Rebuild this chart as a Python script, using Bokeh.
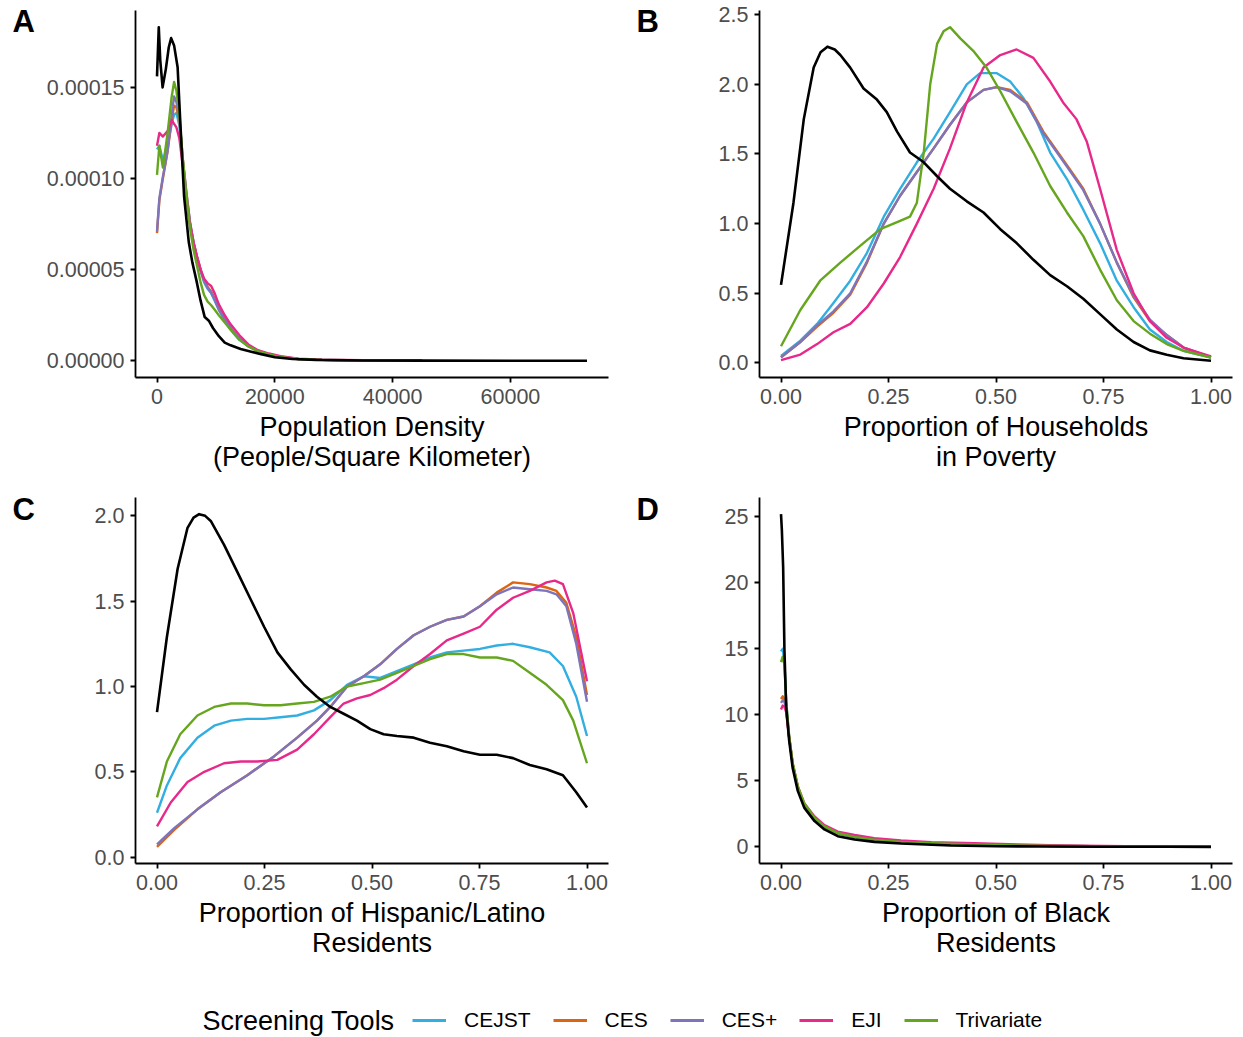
from bokeh.plotting import figure
from bokeh.models import Range1d, FixedTicker, PrintfTickFormatter, Label, Legend, LegendItem
from bokeh.core.properties import value
from bokeh.layouts import column, row
from bokeh.embed import file_html
from bokeh.resources import INLINE

FONT = "Liberation Sans"
SERIES = ["CEJST", "CES", "CES+", "EJI", "Trivariate"]
COLORS = {"CEJST": "#33AEE0", "CES": "#DD6410", "CES+": "#7D74BC", "EJI": "#E7298A", "Trivariate": "#66A61E"}
PANEL_LETTERS = ["A", "B", "C", "D"]

# ---------------- Panel A: population density ----------------
A_black_x = [0, 300, 550, 950, 1500, 2000, 2400, 2900, 3500, 4000, 4600, 5400, 6000, 6700, 7400, 8100,
             8800, 9500, 10500, 11500, 12500, 14200, 16000, 17500, 20000, 23000, 27000, 35000, 45000, 60000, 73000]
A_black_y = [0.000156, 0.000183, 0.000165, 0.000150, 0.000160, 0.000172, 0.000177, 0.000173, 0.000161,
             0.000128, 0.000090, 0.000065, 0.000054, 0.000044, 0.000033, 0.000024, 0.000022, 0.000018,
             0.0000135, 0.000010, 0.0000085, 0.0000065, 0.000005, 0.0000038, 0.000002, 0.000001,
             0.0000005, 0.0000002, 0.0000001, 0.00000005, 0.0]
A_x = [0, 400, 1000, 1800, 2500, 2900, 3300, 3800, 4400, 5000, 5600, 6200, 6800, 7400, 8000, 8600, 9200,
       9800, 10500, 11500, 12500, 14000, 15500, 17000, 19000, 21000, 24000, 28000, 35000, 45000]
A_cejst = [0.000116, 0.000118, 0.000110, 0.000118, 0.000130, 0.000135, 0.000136, 0.000129, 0.000108,
           0.000090, 0.000075, 0.000064, 0.000056, 0.000049, 0.000043, 0.0000395, 0.000037, 0.000033,
           0.000028, 0.000022, 0.000017, 0.0000115, 0.000008, 0.0000055, 0.0000035, 0.0000022,
           0.000001, 0.0000005, 0.0000002, 0.0]
A_ces = [0.000070, 0.000088, 0.000100, 0.000115, 0.000132, 0.000140, 0.000139, 0.000132, 0.000110,
         0.000092, 0.000076, 0.000065, 0.000057, 0.000050, 0.000044, 0.0000405, 0.000038, 0.000034,
         0.000029, 0.000023, 0.000018, 0.000012, 0.000008, 0.0000055, 0.0000035, 0.000002,
         0.000001, 0.0000005, 0.0000002, 0.0]
A_cesp = [0.000071, 0.000089, 0.000101, 0.000115, 0.000135, 0.000145, 0.000142, 0.000133, 0.000110,
          0.000092, 0.000076, 0.000065, 0.000057, 0.000050, 0.000044, 0.000040, 0.0000375, 0.0000335,
          0.000028, 0.000023, 0.000018, 0.000012, 0.000008, 0.0000055, 0.0000035, 0.000002,
          0.000001, 0.0000005, 0.0000002, 0.0]
A_eji = [0.000118, 0.000125, 0.000123, 0.000126, 0.000132, 0.000130, 0.000128, 0.000122, 0.000106,
         0.000089, 0.000075, 0.000065, 0.000057, 0.000050, 0.000045, 0.0000425, 0.000041, 0.000037,
         0.000031, 0.000025, 0.000020, 0.000014, 0.000009, 0.000006, 0.000004, 0.0000025,
         0.0000012, 0.0000006, 0.0000003, 0.0]
A_tri = [0.000102, 0.000118, 0.000106, 0.000125, 0.000145, 0.000153, 0.000148, 0.000135, 0.000110,
         0.000090, 0.000073, 0.000061, 0.000052, 0.000043, 0.000036, 0.0000325, 0.0000305, 0.000028,
         0.000025, 0.000021, 0.000017, 0.0000115, 0.000008, 0.0000055, 0.0000035, 0.000002,
         0.000001, 0.0000005, 0.0000002, 0.0]

# ---------------- Panel B: poverty ----------------
B_black_x = [0, 0.029, 0.053, 0.076, 0.092, 0.108, 0.125, 0.138, 0.161, 0.192, 0.223, 0.246, 0.27, 0.30,
             0.332, 0.363, 0.393, 0.432, 0.471, 0.51, 0.548, 0.587, 0.626, 0.665, 0.703, 0.742, 0.781,
             0.82, 0.858, 0.897, 0.936, 1.0]
B_black_y = [0.56, 1.15, 1.75, 2.12, 2.23, 2.27, 2.25, 2.21, 2.12, 1.97, 1.89, 1.80, 1.66, 1.51, 1.44,
             1.34, 1.25, 1.16, 1.08, 0.96, 0.86, 0.74, 0.63, 0.55, 0.46, 0.35, 0.24, 0.15, 0.09, 0.058,
             0.034, 0.015]
B_cejst_x = [0, 0.045, 0.084, 0.122, 0.161, 0.2, 0.239, 0.277, 0.316, 0.355, 0.393, 0.432, 0.463, 0.502,
             0.533, 0.564, 0.595, 0.626, 0.665, 0.703, 0.742, 0.781, 0.82, 0.858, 0.897, 0.936, 1.0]
B_cejst_y = [0.05, 0.16, 0.28, 0.43, 0.59, 0.79, 1.05, 1.25, 1.44, 1.61, 1.80, 2.0, 2.08, 2.08, 2.02,
             1.90, 1.73, 1.51, 1.32, 1.10, 0.86, 0.59, 0.40, 0.24, 0.15, 0.087, 0.039]
B_ces_x = [0, 0.045, 0.084, 0.122, 0.161, 0.2, 0.239, 0.277, 0.316, 0.355, 0.393, 0.432, 0.471, 0.502,
           0.533, 0.572, 0.61, 0.665, 0.703, 0.742, 0.781, 0.82, 0.858, 0.897, 0.936, 1.0]
B_ces_y = [0.04, 0.15, 0.26, 0.36, 0.49, 0.72, 1.0, 1.2, 1.37, 1.54, 1.71, 1.87, 1.96, 1.98, 1.96, 1.87,
           1.66, 1.42, 1.25, 1.0, 0.72, 0.47, 0.30, 0.20, 0.11, 0.04]
B_cesp_y = [0.04, 0.15, 0.27, 0.37, 0.50, 0.73, 1.0, 1.2, 1.37, 1.54, 1.71, 1.87, 1.96, 1.98, 1.95, 1.86,
            1.65, 1.41, 1.24, 1.0, 0.72, 0.48, 0.31, 0.20, 0.11, 0.04]
B_eji_x = [0, 0.045, 0.084, 0.122, 0.161, 0.2, 0.239, 0.277, 0.316, 0.355, 0.393, 0.432, 0.471, 0.51,
           0.548, 0.587, 0.626, 0.656, 0.687, 0.711, 0.742, 0.781, 0.82, 0.858, 0.897, 0.936, 1.0]
B_eji_y = [0.02, 0.06, 0.135, 0.22, 0.28, 0.40, 0.57, 0.76, 1.0, 1.25, 1.54, 1.87, 2.12, 2.21, 2.25,
           2.19, 2.02, 1.87, 1.75, 1.59, 1.25, 0.81, 0.50, 0.30, 0.18, 0.11, 0.046]
B_tri_x = [0, 0.045, 0.091, 0.138, 0.184, 0.231, 0.277, 0.30, 0.316, 0.332, 0.347, 0.363, 0.378, 0.393,
           0.417, 0.447, 0.478, 0.51, 0.548, 0.587, 0.626, 0.665, 0.703, 0.742, 0.781, 0.82, 0.858,
           0.897, 0.936, 1.0]
B_tri_y = [0.12, 0.38, 0.59, 0.72, 0.84, 0.96, 1.02, 1.05, 1.15, 1.51, 2.0, 2.29, 2.38, 2.41, 2.33,
           2.24, 2.12, 1.95, 1.73, 1.51, 1.27, 1.08, 0.91, 0.67, 0.45, 0.30, 0.21, 0.135, 0.087, 0.039]

# ---------------- Panel C: Hispanic/Latino ----------------
C_black_x = [0, 0.023, 0.048, 0.071, 0.085, 0.098, 0.112, 0.125, 0.156, 0.187, 0.218, 0.249, 0.28, 0.311,
             0.342, 0.372, 0.403, 0.434, 0.465, 0.496, 0.527, 0.558, 0.597, 0.635, 0.674, 0.713, 0.751,
             0.79, 0.828, 0.867, 0.906, 0.944, 0.975, 1.0]
C_black_y = [0.85, 1.29, 1.69, 1.93, 1.99, 2.01, 2.0, 1.97, 1.83, 1.67, 1.51, 1.35, 1.20, 1.10, 1.01,
             0.94, 0.88, 0.84, 0.80, 0.75, 0.72, 0.71, 0.70, 0.67, 0.65, 0.62, 0.60, 0.60, 0.58, 0.54,
             0.515, 0.48, 0.38, 0.29]
C_tri_x = [0, 0.023, 0.054, 0.094, 0.133, 0.172, 0.21, 0.249, 0.287, 0.326, 0.365, 0.403, 0.442, 0.481,
           0.519, 0.558, 0.597, 0.635, 0.674, 0.713, 0.751, 0.79, 0.828, 0.867, 0.906, 0.944, 0.968, 1.0]
C_tri_y = [0.35, 0.56, 0.72, 0.83, 0.88, 0.90, 0.90, 0.89, 0.89, 0.90, 0.91, 0.94, 1.0, 1.02, 1.04,
           1.08, 1.12, 1.16, 1.19, 1.19, 1.17, 1.17, 1.15, 1.08, 1.01, 0.92, 0.80, 0.55]
C_cejst_x = [0, 0.023, 0.054, 0.094, 0.133, 0.172, 0.21, 0.249, 0.287, 0.326, 0.365, 0.403, 0.442, 0.481,
             0.519, 0.558, 0.597, 0.635, 0.674, 0.713, 0.751, 0.79, 0.828, 0.867, 0.913, 0.944, 0.975, 1.0]
C_cejst_y = [0.26, 0.42, 0.58, 0.70, 0.77, 0.80, 0.81, 0.81, 0.82, 0.83, 0.86, 0.92, 1.01, 1.06, 1.05,
             1.09, 1.13, 1.17, 1.20, 1.21, 1.22, 1.24, 1.25, 1.23, 1.20, 1.12, 0.94, 0.71]
C_eji_x = [0, 0.032, 0.071, 0.11, 0.156, 0.195, 0.233, 0.28, 0.326, 0.365, 0.403, 0.434, 0.465, 0.496,
           0.527, 0.558, 0.597, 0.635, 0.674, 0.713, 0.751, 0.79, 0.828, 0.867, 0.906, 0.925, 0.944,
           0.968, 1.0]
C_eji_y = [0.18, 0.32, 0.44, 0.50, 0.55, 0.56, 0.56, 0.57, 0.63, 0.72, 0.82, 0.90, 0.93, 0.95, 0.99,
           1.04, 1.12, 1.19, 1.27, 1.31, 1.35, 1.45, 1.52, 1.56, 1.61, 1.62, 1.60, 1.43, 1.03]
C_ces_x = [0, 0.04, 0.094, 0.148, 0.21, 0.272, 0.326, 0.372, 0.403, 0.442, 0.481, 0.519, 0.558, 0.597,
           0.635, 0.674, 0.713, 0.751, 0.79, 0.828, 0.867, 0.906, 0.929, 0.952, 0.975, 1.0]
C_ces_y = [0.06, 0.16, 0.28, 0.38, 0.48, 0.59, 0.70, 0.80, 0.88, 1.0, 1.06, 1.13, 1.22, 1.30, 1.35,
           1.39, 1.41, 1.47, 1.55, 1.61, 1.60, 1.58, 1.56, 1.49, 1.29, 0.95]
C_cesp_y = [0.075, 0.17, 0.28, 0.38, 0.48, 0.59, 0.70, 0.80, 0.88, 1.0, 1.06, 1.13, 1.22, 1.30, 1.35,
            1.39, 1.41, 1.47, 1.54, 1.58, 1.57, 1.56, 1.54, 1.47, 1.25, 0.91]

# ---------------- Panel D: Black residents ----------------
D_black_x = [0, 0.002, 0.005, 0.008, 0.012, 0.019, 0.027, 0.039, 0.054, 0.078, 0.101, 0.132, 0.171,
             0.217, 0.279, 0.395, 0.5, 0.6, 0.75, 0.9, 1.0]
D_black_y = [25.2, 24.0, 21.2, 14.9, 10.6, 8.05, 6.0, 4.24, 2.97, 1.95, 1.32, 0.81, 0.56, 0.38, 0.25,
             0.10, 0.05, 0.03, 0.01, 0.005, 0.0]
D_x = [0, 0.004, 0.008, 0.012, 0.019, 0.027, 0.039, 0.054, 0.078, 0.101, 0.132, 0.171, 0.217, 0.279,
       0.35, 0.45, 0.55, 0.65, 0.8, 1.0]
D_cejst = [14.8, 15.0, 14.0, 11.0, 8.3, 6.3, 4.5, 3.2, 2.1, 1.5, 1.0, 0.72, 0.5, 0.35, 0.25, 0.17,
           0.1, 0.06, 0.03, 0.0]
D_ces = [11.2, 11.4, 11.2, 10.5, 8.3, 6.3, 4.5, 3.2, 2.15, 1.55, 1.05, 0.78, 0.55, 0.38, 0.27, 0.2,
         0.12, 0.07, 0.03, 0.0]
D_cesp = [10.9, 11.1, 11.0, 10.4, 8.3, 6.3, 4.5, 3.2, 2.15, 1.55, 1.05, 0.78, 0.55, 0.38, 0.27, 0.2,
          0.12, 0.07, 0.03, 0.0]
D_eji = [10.4, 10.7, 10.6, 10.2, 8.3, 6.3, 4.6, 3.3, 2.3, 1.65, 1.15, 0.9, 0.65, 0.48, 0.35, 0.28,
         0.18, 0.1, 0.05, 0.0]
D_tri = [14.0, 14.4, 13.8, 11.0, 8.4, 6.4, 4.6, 3.3, 2.2, 1.55, 1.05, 0.75, 0.55, 0.38, 0.27, 0.18,
         0.1, 0.06, 0.03, 0.0]

PROP_TICKS = [0, 0.25, 0.5, 0.75, 1.0]
TOP_H, BOTTOM_H, LEGEND_H = 497, 470, 70


def letter_fig(letters, width, height, left, centers_from_top):
    # one tall strip holding the letters of a column; data units equal pixels (y from the bottom)
    f = figure(width=width, height=height, output_backend="svg", toolbar_location=None,
               x_range=Range1d(0, width), y_range=Range1d(0, height),
               x_axis_location=None, y_axis_location=None,
               min_border=0, min_border_left=0, min_border_right=0, min_border_top=0, min_border_bottom=0)
    f.outline_line_color = None
    f.grid.visible = False
    f.text(x=[left] * len(letters), y=[height - c for c in centers_from_top], text=letters,
           text_font=value(FONT), text_font_size="31px", text_font_style="bold", text_color="black",
           text_baseline="middle", text_align="left")
    return f


def make_panel(xlabel, series, black, x_ticks, x_fmt, y_ticks, y_fmt,
               width, height, mbl, mbr, mbt, mbb):
    xs = [v for s in series.values() for v in s[0]] + list(black[0])
    ys = [v for s in series.values() for v in s[1]] + list(black[1])
    x0, x1 = min(xs), max(xs)
    y0, y1 = min(ys), max(ys)
    dx, dy = (x1 - x0) * 0.05, (y1 - y0) * 0.05
    p = figure(width=width, height=height, output_backend="svg", toolbar_location=None,
               x_range=Range1d(x0 - dx, x1 + dx), y_range=Range1d(y0 - dy, y1 + dy),
               min_border_left=mbl, min_border_right=mbr, min_border_top=mbt, min_border_bottom=mbb)
    p.outline_line_color = None
    p.grid.visible = False
    for name in SERIES:
        sx, sy = series[name]
        p.line(sx, sy, line_color=COLORS[name], line_width=2.4, line_join="round")
    p.line(black[0], black[1], line_color="black", line_width=2.6, line_join="round")

    for ax in (p.xaxis[0], p.yaxis[0]):
        ax.axis_line_color = "black"
        ax.axis_line_width = 1.8
        ax.major_tick_line_color = "black"
        ax.major_tick_line_width = 1.8
        ax.major_tick_out = 5
        ax.major_tick_in = 0
        ax.minor_tick_out = 0
        ax.minor_tick_in = 0
        ax.major_label_text_font = FONT
        ax.major_label_text_font_size = "21.5px"
        ax.major_label_text_color = "#4D4D4D"
        ax.major_label_standoff = 6
    p.xaxis.ticker = FixedTicker(ticks=x_ticks)
    p.xaxis.formatter = PrintfTickFormatter(format=x_fmt)
    p.yaxis.ticker = FixedTicker(ticks=y_ticks)
    p.yaxis.formatter = PrintfTickFormatter(format=y_fmt)
    p.xaxis.axis_label = xlabel
    p.xaxis.axis_label_text_font = FONT
    p.xaxis.axis_label_text_font_size = "27px"
    p.xaxis.axis_label_text_font_style = "normal"
    p.xaxis.axis_label_text_color = "black"
    p.xaxis.axis_label_text_line_height = 1.0
    p.xaxis.axis_label_standoff = 5
    return p


pA = make_panel("Population Density\n(People/Square Kilometer)",
                {"CEJST": (A_x, A_cejst), "CES": (A_x, A_ces), "CES+": (A_x, A_cesp),
                 "EJI": (A_x, A_eji), "Trivariate": (A_x, A_tri)},
                (A_black_x, A_black_y), [0, 20000, 40000, 60000], "%d",
                [0, 0.00005, 0.0001, 0.00015], "%.5f", 582, TOP_H, 95, 14, 10, 120)
pB = make_panel("Proportion of Households\nin Poverty",
                {"CEJST": (B_cejst_x, B_cejst_y), "CES": (B_ces_x, B_ces_y), "CES+": (B_ces_x, B_cesp_y),
                 "EJI": (B_eji_x, B_eji_y), "Trivariate": (B_tri_x, B_tri_y)},
                (B_black_x, B_black_y), PROP_TICKS, "%.2f",
                [0, 0.5, 1.0, 1.5, 2.0, 2.5], "%.1f", 581, TOP_H, 97, 11, 10, 120)
pC = make_panel("Proportion of Hispanic/Latino\nResidents",
                {"CEJST": (C_cejst_x, C_cejst_y), "CES": (C_ces_x, C_ces_y), "CES+": (C_ces_x, C_cesp_y),
                 "EJI": (C_eji_x, C_eji_y), "Trivariate": (C_tri_x, C_tri_y)},
                (C_black_x, C_black_y), PROP_TICKS, "%.2f",
                [0, 0.5, 1.0, 1.5, 2.0], "%.1f", 582, BOTTOM_H, 95, 14, 0, 104)
pD = make_panel("Proportion of Black\nResidents",
                {"CEJST": (D_x, D_cejst), "CES": (D_x, D_ces), "CES+": (D_x, D_cesp),
                 "EJI": (D_x, D_eji), "Trivariate": (D_x, D_tri)},
                (D_black_x, D_black_y), PROP_TICKS, "%.2f",
                [0, 5, 10, 15, 20, 25], "%d", 581, BOTTOM_H, 97, 11, 0, 104)

letters_left = letter_fig([PANEL_LETTERS[0], PANEL_LETTERS[2]], 40, TOP_H + BOTTOM_H, 12, [21, 509])
letters_right = letter_fig([PANEL_LETTERS[1], PANEL_LETTERS[3]], 40, TOP_H + BOTTOM_H, 14, [21, 509])

# ---------------- Legend strip ----------------
pL = figure(width=1243, height=LEGEND_H, output_backend="svg", toolbar_location=None,
            x_range=Range1d(-10, -9), y_range=Range1d(0, 1), x_axis_location=None, y_axis_location=None,
            min_border=0, min_border_left=0, min_border_right=0, min_border_top=0, min_border_bottom=0)
pL.outline_line_color = None
pL.grid.visible = False
legend_series = {"CEJST": A_cejst, "CES": A_ces, "CES+": A_cesp, "EJI": A_eji, "Trivariate": A_tri}
items = []
for name in SERIES:
    r = pL.line(A_x, legend_series[name], line_color=COLORS[name], line_width=3)
    items.append(LegendItem(label=name, renderers=[r]))
leg = Legend(items=items, orientation="horizontal", location=(412, 5),
             glyph_width=34, glyph_height=24, label_standoff=18, spacing=22,
             label_text_font=FONT, label_text_font_size="21px", label_text_color="black",
             padding=0, margin=0, border_line_color=None, background_fill_alpha=0)
pL.add_layout(leg, "center")
pL.add_layout(Label(x=202, y=17, x_units="screen", y_units="screen", text="Screening Tools",
                    text_font=FONT, text_font_size="27px", text_color="black",
                    text_baseline="middle", text_align="left"))

layout = column(row(letters_left, column(pA, pC), letters_right, column(pB, pD)), pL)
open("out.html", "w").write(file_html(layout, INLINE))
